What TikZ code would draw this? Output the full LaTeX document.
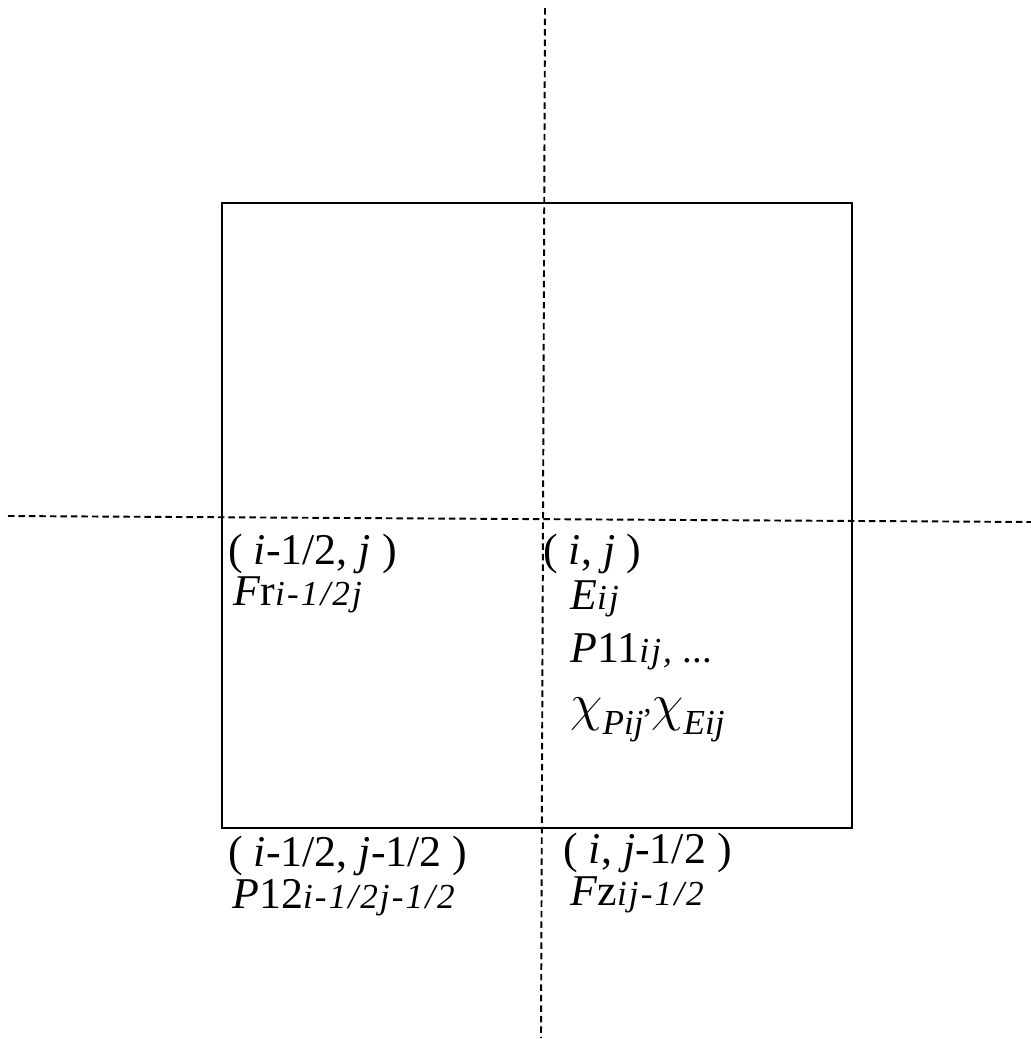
\documentclass[tikz,border=0pt]{standalone}
\usepackage{fontspec}
\setmainfont{Liberation Serif}
\usepackage{graphicx}
\usepackage{tikz}
\usetikzlibrary{positioning}
\newcommand{\subtxt}[1]{{\fontsize{20}{20}\selectfont\itshape\addfontfeature{LetterSpace=6}#1}}
\newcommand{\lowsub}[1]{\raisebox{-8pt}{\fontsize{20}{20}\selectfont\itshape #1}}
\newcommand{\chisym}{\scalebox{1.2}{\fontsize{24}{24}\selectfont$\chi$}}
\tikzset{
  cellbox/.style={draw=black,line width=1.1pt},
  gridaxis/.style={draw=black,line width=1.1pt,dash pattern=on 0.13cm off 0.08cm},
  celltext/.style={anchor=base west,inner sep=0pt,font=\fontsize{25}{30}\selectfont}
}
\begin{document}
\begin{tikzpicture}[x=0.02cm,y=-0.02cm]
  \useasboundingbox (0,0) rectangle (1031,1039);
  \coordinate (hl) at (8,516); \coordinate (hr) at (1031,522);
  \coordinate (vt) at (545,8); \coordinate (vb) at (541,1038);
  \draw[cellbox] (222,203) rectangle (852,828);
  \draw[gridaxis] (hl) -- (hr);
  \draw[gridaxis] (vt) -- (vb);
  \node[celltext] (west) at (228,564) {( \textit{i}-1/2, \textit{j} )};
  \node[celltext] (fr) at (233,605) {\textit{F}r\subtxt{i-1/2j}};
  \node[celltext] (ctr) at (543,564) {( \textit{i}, \textit{j} )};
  \node[celltext] (eij) at (570,609) {\textit{E}\subtxt{ij}};
  \node[celltext] (p11) at (570,662) {\textit{P}11\subtxt{ij,} {\fontsize{22}{22}\selectfont...}};
  \node[celltext] (chi) at (570,720) {\chisym\lowsub{Pij}\raisebox{4pt}{\fontsize{18}{18}\selectfont,}\chisym\lowsub{Eij}};
  \node[celltext] (sw) at (228,866) {( \textit{i}-1/2, \textit{j}-1/2 )};
  \node[celltext] (p12) at (232,908) {\textit{P}12\subtxt{i-1/2j-1/2}};
  \node[celltext] (south) at (563,863) {( \textit{i}, \textit{j}-1/2 )};
  \node[celltext] (fz) at (570,905) {\textit{F}z\subtxt{ij-1/2}};
\end{tikzpicture}
\end{document}
